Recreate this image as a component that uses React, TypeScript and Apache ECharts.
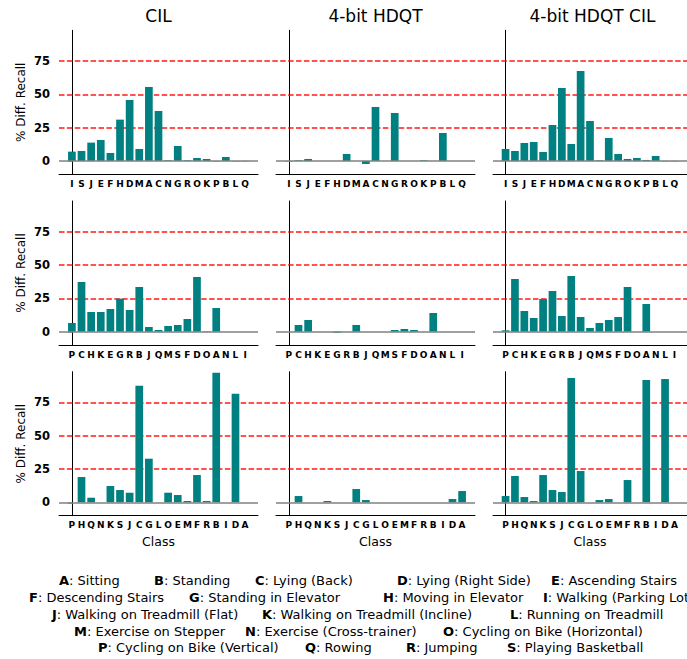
import React, { useEffect, useRef } from "react";
import * as echarts from "echarts";

// ---------- data ----------
const row1Classes = ["I", "S", "J", "E", "F", "H", "D", "M", "A", "C", "N", "G", "R", "O", "K", "P", "B", "L", "Q"];
const row2Classes = ["P", "C", "H", "K", "E", "G", "R", "B", "J", "Q", "M", "S", "F", "D", "O", "A", "N", "L", "I"];
const row3Classes = ["P", "H", "Q", "N", "K", "S", "J", "C", "G", "L", "O", "E", "M", "F", "R", "B", "I", "D", "A"];

const cilRow1 = [7, 7.5, 13.75, 15.75, 6, 31, 45.75, 9, 55.5, 37.5, 0.5, 11.25, 0.5, 2.25, 1.5, -0.3, 3, -0.3, -0.3];
const hdqtRow1 = [-0.3, 0.5, 1.5, 0, 0, 0, 5.25, 0, -2.25, 40.5, 0, 36, 0, 0, 0.5, 0, 21, 0, 0];
const hdqtCilRow1 = [9, 7.5, 13.5, 14.25, 6.75, 27, 54.75, 12.75, 67.5, 30, 0.5, 17.25, 5.25, 1.5, 2.25, 0.75, 3.75, -0.3, -0.3];

const cilRow2 = [6.5, 37.25, 14.75, 14.75, 17, 24.75, 16.25, 33.5, 3.5, 1.25, 4.25, 5, 9.5, 41, 0.3, 17.75, 0, 0, 0];
const hdqtRow2 = [0, 5, 8.75, 0, 0, -0.75, 0, 5, 0, 0, 0, 1.25, 2, 1.25, 0, 14, 0, 0, 0];
const hdqtCilRow2 = [1, 39.5, 15.5, 10.25, 24.5, 30.5, 11.75, 41.75, 11, 2.75, 6.5, 8.75, 11, 33.5, 0, 20.75, 0, 0, 0];

const cilRow3 = [0, 19, 3.5, 0, 12.25, 9.25, 7.25, 87.5, 32.75, 0, 7.25, 5.5, 1, 20.5, 1, 97.25, 0, 81.5, 0];
const hdqtRow3 = [0, 4.75, 0, 0, 1, 0, 0, 10, 1.75, 0, 0, 0, 0, 0, 0, 0, 0, 2.5, 8.5];
const hdqtCilRow3 = [4.75, 19.75, 4, 1, 20.5, 9.25, 7.75, 93.25, 23.5, 0, 1.75, 2.5, 0, 16.75, 0, 91.75, 0, 92.5, 0];

const panelTitles = ["CIL", "4-bit HDQT", "4-bit HDQT CIL"];
const yTickValues = [0, 25, 50, 75];
const referenceLines = [25, 50, 75];

const activityNames: Record<string, string> = {
  A: "Sitting",
  B: "Standing",
  C: "Lying (Back)",
  D: "Lying (Right Side)",
  E: "Ascending Stairs",
  F: "Descending Stairs",
  G: "Standing in Elevator",
  H: "Moving in Elevator",
  I: "Walking (Parking Lot)",
  J: "Walking on Treadmill (Flat)",
  K: "Walking on Treadmill (Incline)",
  L: "Running on Treadmill",
  M: "Exercise on Stepper",
  N: "Exercise (Cross-trainer)",
  O: "Cycling on Bike (Horizontal)",
  P: "Cycling on Bike (Vertical)",
  Q: "Rowing",
  R: "Jumping",
  S: "Playing Basketball",
};
const legendRows = [
  ["A", "B", "C", "D", "E"],
  ["F", "G", "H", "I"],
  ["J", "K", "L"],
  ["M", "N", "O"],
  ["P", "Q", "R", "S"],
];

// ---------- layout ----------
const W = 687;
const H = 659;
const FONT = "DejaVu Sans";
const colLeft = [59, 276, 493];
const colWidth = 199;
const rowTop = [30.3, 201, 371.7];
const rowHeight = 144;
const Y_MIN = -10;
const Y_MAX = 98;
const X_MIN = -1.34;
const X_MAX = 19.34;
const legendX = [
  [59, 154, 255, 397, 551],
  [29, 189, 383, 543],
  [52, 262, 510],
  [74, 245, 443],
  [98, 305, 406, 507],
];
const legendY = [580, 597, 614, 631, 647];
const TEAL = "#008080";

const rowClasses = [row1Classes, row2Classes, row3Classes];
const panelValues = [
  [cilRow1, hdqtRow1, hdqtCilRow1],
  [cilRow2, hdqtRow2, hdqtCilRow2],
  [cilRow3, hdqtRow3, hdqtCilRow3],
];

function buildOption() {
  const grid: any[] = [];
  const xAxis: any[] = [];
  const yAxis: any[] = [];
  const series: any[] = [];
  const barWidth = (0.8 * colWidth) / (X_MAX - X_MIN);

  for (let r = 0; r < 3; r++) {
    const cats = rowClasses[r];
    for (let c = 0; c < 3; c++) {
      const idx = grid.length;
      grid.push({ left: colLeft[c], top: rowTop[r], width: colWidth, height: rowHeight, containLabel: false });
      xAxis.push({
        type: "value",
        gridIndex: idx,
        min: X_MIN,
        max: X_MAX,
        axisLine: { show: true, onZero: false, lineStyle: { color: "#000", width: 1 } },
        axisTick: { show: false },
        splitLine: { show: false },
        axisLabel: {
          customValues: cats.map((_, i) => i),
          formatter: (v: number) => cats[Math.round(v)] ?? "",
          fontFamily: FONT,
          fontWeight: "bold",
          fontSize: 9,
          color: "#000",
          margin: 5,
        },
        name: r === 2 ? "Class" : "",
        nameLocation: "middle",
        nameGap: 19,
        nameTextStyle: { fontFamily: FONT, fontSize: 12.5, color: "#000" },
      });
      yAxis.push({
        type: "value",
        gridIndex: idx,
        min: Y_MIN,
        max: Y_MAX,
        axisLine: { show: true, lineStyle: { color: "#000", width: 1 } },
        axisTick: c === 0
          ? { show: true, customValues: [0], length: 4, lineStyle: { color: "#808080", width: 1.5 } }
          : { show: false },
        splitLine: { show: false },
        axisLabel: c === 0
          ? { show: true, customValues: yTickValues, fontFamily: FONT, fontWeight: "bold", fontSize: 11.5, color: "#000", margin: 9 }
          : { show: false },
        name: c === 0 ? "% Diff. Recall" : "",
        nameLocation: "middle",
        nameGap: 32,
        nameTextStyle: { fontFamily: FONT, fontSize: 12, color: "#000" },
      });
      series.push({
        type: "bar",
        xAxisIndex: idx,
        yAxisIndex: idx,
        z: 3,
        barWidth,
        itemStyle: { color: TEAL },
        data: panelValues[r][c].map((v, i) => [i, v]),
        markLine: {
          silent: true,
          symbol: "none",
          z: 5,
          label: { show: false },
          lineStyle: { color: "#808080", width: 1.5, type: "solid" },
          data: [{ yAxis: 0 }],
        },
      });
    }
  }

  // full-width rows carrying the red dashed reference lines
  for (let r = 0; r < 3; r++) {
    const idx = grid.length;
    grid.push({ left: colLeft[0], top: rowTop[r], right: 0, height: rowHeight });
    xAxis.push({ type: "value", gridIndex: idx, min: 0, max: 1, show: false });
    yAxis.push({ type: "value", gridIndex: idx, min: Y_MIN, max: Y_MAX, show: false });
    series.push({
      type: "line",
      xAxisIndex: idx,
      yAxisIndex: idx,
      z: 1,
      data: [],
      markLine: {
        silent: true,
        symbol: "none",
        z: 1,
        label: { show: false },
        lineStyle: { color: "#ff0000", width: 1.5, type: [5.5, 2.4], opacity: 0.9 },
        data: referenceLines.map((v) => ({ yAxis: v })),
      },
    });
  }

  const graphic: any[] = [];
  panelTitles.forEach((t, c) => {
    graphic.push({
      type: "text",
      x: colLeft[c] + colWidth / 2,
      y: 16,
      style: { text: t, fontFamily: FONT, fontSize: 17, fill: "#000", align: "center", verticalAlign: "middle" },
    });
  });
  legendRows.forEach((letters, r) => {
    letters.forEach((L, k) => {
      graphic.push({
        type: "text",
        x: legendX[r][k],
        y: legendY[r],
        style: {
          text: `{b|${L}}{n|: ${activityNames[L]}}`,
          fontFamily: FONT,
          fontSize: 13,
          fill: "#000",
          align: "left",
          verticalAlign: "middle",
          rich: {
            b: { fontFamily: FONT, fontSize: 13, fontWeight: "bold", fill: "#000" },
            n: { fontFamily: FONT, fontSize: 13, fill: "#000" },
          },
        },
      });
    });
  });

  return {
    animation: false,
    backgroundColor: "#fff",
    textStyle: { fontFamily: FONT },
    grid,
    xAxis,
    yAxis,
    series,
    graphic,
  };
}

export default function App() {
  const ref = useRef<HTMLDivElement>(null);
  useEffect(() => {
    if (!ref.current) return;
    const chart = echarts.init(ref.current, undefined, { renderer: "svg" });
    chart.setOption(buildOption() as any);
    return () => chart.dispose();
  }, []);
  return (
    <div
      ref={ref}
      style={{ position: "fixed", left: 0, top: 0, width: W, height: H, background: "#fff" }}
    />
  );
}
